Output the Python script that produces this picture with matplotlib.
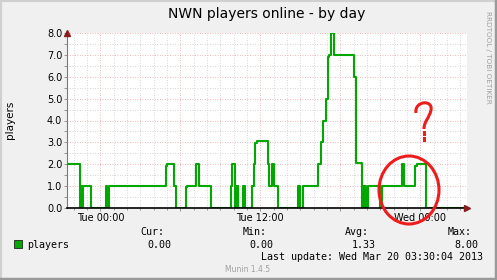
import matplotlib
matplotlib.use('Agg')
import matplotlib.pyplot as plt
from matplotlib.ticker import MultipleLocator, FuncFormatter
from matplotlib.patches import Rectangle, Ellipse
from matplotlib.lines import Line2D
from matplotlib.path import Path
from matplotlib.patches import PathPatch

# hours since Tue 00:00 where the value changes, and the value from there on
hours = [-2.5, -1.52, -1.45, -1.35, -1.32, -0.72, 0.405, 0.50, 0.675,
         4.905, 5.025, 5.53, 5.655, 6.39, 6.50, 7.155, 7.40, 8.30,
         9.765, 9.855, 10.065, 10.14, 10.215, 10.29, 10.35, 10.725, 10.85,
         11.355, 11.49, 11.625, 11.73, 12.555, 12.65, 12.9, 13.05, 13.305,
         14.83, 14.975, 15.165, 16.35, 16.53, 16.725, 16.905, 17.04, 17.175,
         17.28, 17.53, 19.05, 19.18, 19.605, 19.725, 19.8, 19.875, 19.95,
         20.04, 20.98, 21.09, 22.605, 22.8, 23.6, 23.73, 24.43, 27.5]
players = [2.0, 0.0, 1.0, 0.0, 1.0, 0.0, 1.0, 0.0, 1.0,
           1.9, 2.0, 1.0, 0.0, 0.95, 1.0, 2.0, 1.0, 0.0,
           1.0, 2.0, 0.0, 1.0, 0.0, 1.0, 0.0, 1.0, 0.0,
           1.0, 2.0, 2.95, 3.05, 2.0, 1.0, 2.0, 1.0, 0.0,
           1.0, 0.0, 1.0, 2.0, 3.0, 4.0, 5.0, 6.9, 7.0,
           8.0, 7.0, 6.0, 2.05, 0.0, 1.0, 0.0, 1.0, 0.0,
           1.0, 0.0, 1.0, 2.0, 1.0, 1.9, 2.0, 0.0, 0.0]

tick_labels = {0: 'Tue 00:00', 12: 'Tue 12:00', 24: 'Wed 00:00'}
stat_names = ['Cur:', 'Min:', 'Avg:', 'Max:']
stat_values = ['0.00', '0.00', '1.33', '8.00']

W, H = 497, 280
green = '#00a800'

def fx(px):
    return px / W

def fy(py):
    return 1 - py / H

fig = plt.figure(figsize=(W / 100, H / 100), dpi=100, facecolor='#f0f0f0')
ax = fig.add_axes([fx(67), fy(208), 400 / W, 175 / H])
ax.set_facecolor('white')

ax.step(hours, players, where='post', color=green, lw=1.5, zorder=3)
ax.set_xlim(-2.5, 27.5)
ax.set_ylim(0, 8)

ax.xaxis.set_major_locator(MultipleLocator(6))
ax.xaxis.set_minor_locator(MultipleLocator(1))
ax.xaxis.set_major_formatter(FuncFormatter(lambda v, p: tick_labels.get(int(round(v)), '')))
ax.yaxis.set_major_locator(MultipleLocator(1))
ax.yaxis.set_minor_locator(MultipleLocator(0.5))
ax.yaxis.set_major_formatter(FuncFormatter(lambda v, p: '%.1f' % v))

ax.grid(which='minor', color='#c8c8c8', ls=(0, (1, 2)), lw=0.6)
ax.grid(which='major', color='#e8a0a0', ls=(0, (1, 2)), lw=0.6)
ax.set_axisbelow(True)
ax.tick_params(which='both', length=2, width=0.6, color='#888888', labelsize=7, pad=1.5)
ax.tick_params(axis='x', which='minor', length=1.5)

for s in ['top', 'right']:
    ax.spines[s].set_visible(False)
ax.spines['left'].set_color('#777777')
ax.spines['left'].set_linewidth(0.8)
ax.spines['bottom'].set_color('black')
ax.spines['bottom'].set_linewidth(1.2)
ax.spines['bottom'].set_zorder(4)

# axis arrows
ax.plot([0], [1.0], marker='^', ms=4, color='#8b1a1a', transform=ax.transAxes, clip_on=False, zorder=5)
ax.plot([1.0], [0], marker='>', ms=4, color='#8b1a1a', transform=ax.transAxes, clip_on=False, zorder=5)

fig.text(fx(267), fy(14), 'NWN players online - by day', ha='center', va='center', fontsize=10)
fig.text(fx(10), fy(120), 'players', rotation=90, ha='center', va='center', fontsize=7.5)
fig.text(fx(488), fy(57), 'RRDTOOL / TOBI OETIKER', rotation=270, ha='center', va='center',
         fontsize=5.2, color='#a0a0a0')

# legend and stats
fig.patches.append(Rectangle((fx(14), fy(248)), 8 / W, 8 / H, transform=fig.transFigure,
                             facecolor=green, edgecolor='#222222', lw=0.6))
mono = dict(family='DejaVu Sans Mono', fontsize=7.2, va='center')
fig.text(fx(27), fy(245), 'players', ha='left', **mono)
for i, (n, v) in enumerate(zip(stat_names, stat_values)):
    x0 = 140 + i * 102.5
    fig.text(fx(x0), fy(232), n, ha='left', **mono)
    fig.text(fx(x0 + 7), fy(245), v, ha='left', **mono)
fig.text(fx(483), fy(257), 'Last update: Wed Mar 20 03:30:04 2013', ha='right', **mono)
fig.text(fx(248), fy(269), 'Munin 1.4.5', ha='center', va='center', fontsize=5.5, color='#a0a0a0')

# hand-drawn red marks
fig.patches.append(Ellipse((fx(409), fy(190)), 60 / W, 68 / H, angle=0, transform=fig.transFigure,
                           fill=False, edgecolor='#ee1c1c', lw=2.2, zorder=10))
qpath = Path([(fx(416), fy(113)), (fx(414), fy(101)), (fx(433), fy(99)),
              (fx(431), fy(110)), (fx(429), fy(119)), (fx(424), fy(121)), (fx(424), fy(129))],
             [Path.MOVETO, Path.CURVE4, Path.CURVE4, Path.CURVE4, Path.CURVE4, Path.CURVE4, Path.CURVE4])
fig.patches.append(PathPatch(qpath, transform=fig.transFigure, fill=False, edgecolor='#ee1c1c', lw=2.2, zorder=10))
fig.add_artist(Line2D([fx(424), fx(424)], [fy(132), fy(134)], color='#ee1c1c', lw=2.2))
fig.add_artist(Line2D([fx(424), fx(424)], [fy(137.5), fy(139.5)], color='#ee1c1c', lw=2.2))

# 3d-ish border
fig.add_artist(Line2D([0, 1], [fy(0.5), fy(0.5)], color='#d0d0d0', lw=1.5))
fig.add_artist(Line2D([fx(0.5), fx(0.5)], [0, 1], color='#d0d0d0', lw=1.5))
fig.add_artist(Line2D([0, 1], [fy(279), fy(279)], color='#9a9a9a', lw=2.5))
fig.add_artist(Line2D([fx(496), fx(496)], [0, 1], color='#9a9a9a', lw=2.5))

fig.savefig('out.png', dpi=100, facecolor=fig.get_facecolor())
